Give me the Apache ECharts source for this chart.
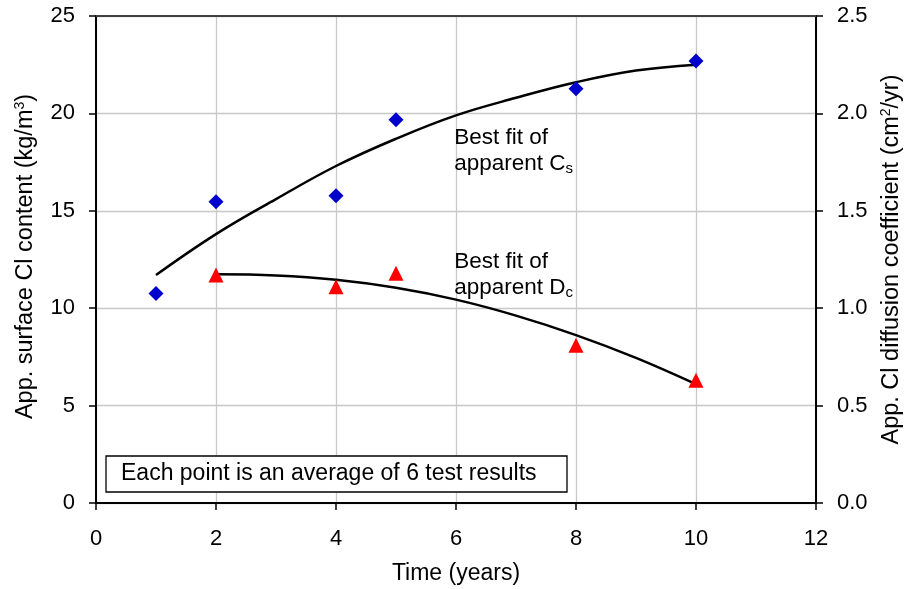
<!DOCTYPE html>
<html><head><meta charset="utf-8">
<script src="https://cdn.jsdelivr.net/npm/echarts@6/dist/echarts.min.js"></script>
<style>html,body{margin:0;padding:0;background:#fff}#c{width:908px;height:589px}</style>
</head><body><div id="c"></div>
<script>
// Measured points
const csYears = [1, 2, 4, 5, 8, 10];
const csValues = [10.75, 15.46, 15.77, 19.67, 21.26, 22.69];
const dcYears = [2, 4, 5, 8, 10];
const dcValues = [1.17, 1.11, 1.18, 0.81, 0.63];
// Best-fit curves
const csFitYears = [1, 2, 3, 4, 5, 6, 7, 8, 9, 10];
const csFitValues = [11.7, 13.8, 15.6, 17.3, 18.7, 19.9, 20.8, 21.6, 22.2, 22.5];
const dcFitYears = [2, 3, 4, 5, 6, 7, 8, 9, 10];
const dcFitValues = [1.174, 1.168, 1.146, 1.105, 1.044, 0.962, 0.862, 0.745, 0.61];
// Axis ticks
const xTicks = [0, 2, 4, 6, 8, 10, 12];
const leftTicks = [0, 5, 10, 15, 20, 25];
const rightTicks = [0.0, 0.5, 1.0, 1.5, 2.0, 2.5];

const FONT = "'Liberation Sans', Arial, Helvetica, sans-serif";
const pair = (xs, ys) => xs.map((x, i) => [x, ys[i]]);

const chart = echarts.init(document.getElementById('c'), null, {renderer: 'canvas'});
const axisLine = {show: true, onZero: false, lineStyle: {color: '#000', width: 2}};
const axisTick = {show: true, inside: false, length: 7, lineStyle: {color: '#000', width: 1.5}};
const splitLine = {show: true, lineStyle: {color: '#c8c8c8', width: 1.3}};
const supRich = {sup: {fontSize: 14, fontFamily: FONT, color: '#000', verticalAlign: 'top', lineHeight: 14}};
const tickFont = {fontSize: 22, color: '#000', fontFamily: FONT};

chart.setOption({
  animation: false,
  backgroundColor: '#fff',
  grid: {left: 96, right: 92, top: 16, bottom: 86, containLabel: false, outerBoundsMode: 'none'},
  xAxis: [{
    type: 'value', min: xTicks[0], max: xTicks[xTicks.length - 1], interval: xTicks[1] - xTicks[0],
    axisLine, axisTick, splitLine,
    axisLabel: Object.assign({margin: 25}, tickFont),
    name: 'Time (years)', nameLocation: 'middle', nameGap: 58,
    nameTextStyle: {fontSize: 23, color: '#000', fontFamily: FONT, lineHeight: 26}
  }, {
    type: 'value', position: 'top', min: xTicks[0], max: xTicks[xTicks.length - 1],
    axisLine: {show: true, onZero: false, lineStyle: {color: '#404040', width: 2}},
    axisTick: {show: false}, axisLabel: {show: false}, splitLine: {show: false}
  }],
  yAxis: [{
    type: 'value', position: 'left', min: leftTicks[0], max: leftTicks[leftTicks.length - 1],
    interval: leftTicks[1] - leftTicks[0],
    axisLine, axisTick, splitLine,
    axisLabel: Object.assign({margin: 21}, tickFont),
    name: 'App. surface Cl content (kg/m{sup|3})', nameLocation: 'middle', nameGap: 57, nameRotate: 90,
    nameTextStyle: {fontSize: 23.5, color: '#000', fontFamily: FONT, lineHeight: 26, rich: supRich, padding: [0, 0, 0, 6]}
  }, {
    type: 'value', position: 'right', min: rightTicks[0], max: rightTicks[rightTicks.length - 1],
    interval: rightTicks[1] - rightTicks[0],
    axisLine, axisTick, splitLine: {show: false},
    axisLabel: Object.assign({margin: 21, formatter: v => v.toFixed(1)}, tickFont),
    name: 'App. Cl diffusion coefficient (cm{sup|2}/yr)', nameLocation: 'middle', nameGap: 63, nameRotate: 90,
    nameTextStyle: {fontSize: 23.5, color: '#000', fontFamily: FONT, lineHeight: 26, rich: supRich}
  }],
  series: [{
    name: 'Cs fit', type: 'line', xAxisIndex: 0, yAxisIndex: 0, data: pair(csFitYears, csFitValues),
    smooth: 0.4, showSymbol: false, symbol: 'none', lineStyle: {color: '#000', width: 2.5}, z: 3
  }, {
    name: 'Dc fit', type: 'line', xAxisIndex: 0, yAxisIndex: 1, data: pair(dcFitYears, dcFitValues),
    smooth: 0.4, showSymbol: false, symbol: 'none', lineStyle: {color: '#000', width: 2.5}, z: 3
  }, {
    name: 'Cs', type: 'scatter', xAxisIndex: 0, yAxisIndex: 0, data: pair(csYears, csValues),
    symbol: 'diamond', symbolSize: 15, itemStyle: {color: '#0000cc', opacity: 1}, z: 4
  }, {
    name: 'Dc', type: 'scatter', xAxisIndex: 0, yAxisIndex: 1, data: pair(dcYears, dcValues),
    symbol: 'triangle', symbolSize: 15, itemStyle: {color: '#ff0000', opacity: 1}, z: 4
  }]
});

const subRich = {sub: {fontSize: 15, fontFamily: FONT, fill: '#000', verticalAlign: 'bottom', lineHeight: 14}};
const p1 = chart.convertToPixel({xAxisIndex: 0, yAxisIndex: 0}, [5.97, 18.1]);
const p2 = chart.convertToPixel({xAxisIndex: 0, yAxisIndex: 0}, [5.97, 11.74]);
const mkLabel = (p, sym) => ({
  type: 'text', x: p[0], y: p[1], z: 10,
  style: {text: 'Best fit of\napparent ' + sym, fontSize: 22.5, fontFamily: FONT, fill: '#000',
          lineHeight: 26, align: 'left', verticalAlign: 'middle', rich: subRich}
});
chart.setOption({
  graphic: [
    mkLabel(p1, 'C{sub|s}'),
    mkLabel(p2, 'D{sub|c}'),
    {type: 'rect', z: 10, shape: {x: 106, y: 456, width: 461, height: 36},
     style: {fill: '#fff', stroke: '#000', lineWidth: 1.3}},
    {type: 'text', z: 11, x: 121, y: 474,
     style: {text: 'Each point is an average of 6 test results', fontSize: 23, fontFamily: FONT,
             fill: '#000', align: 'left', verticalAlign: 'middle'}}
  ]
});
</script></body></html>
